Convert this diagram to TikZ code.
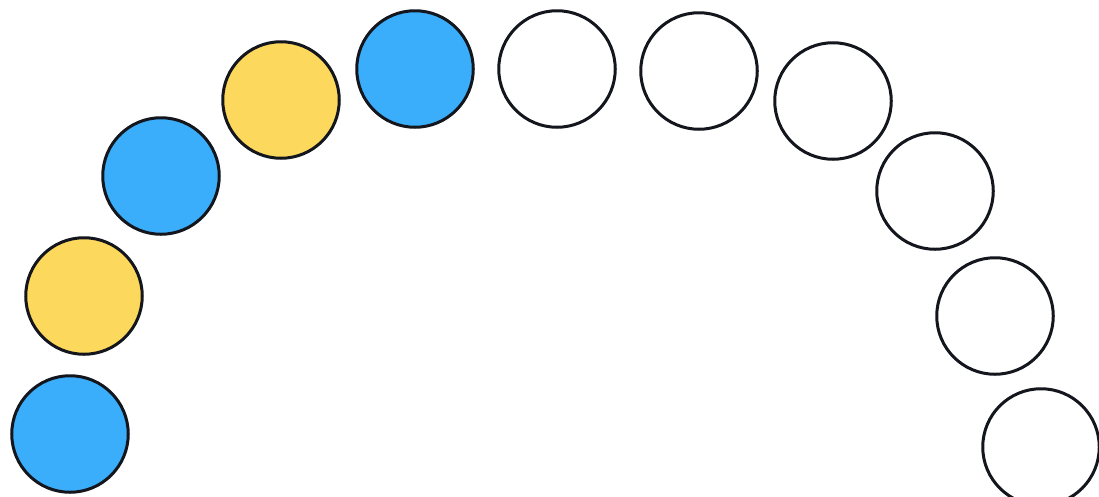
\documentclass[tikz,border=0pt]{standalone}
\definecolor{dotblue}{RGB}{58,174,250}
\definecolor{dotyellow}{RGB}{252,216,92}
\definecolor{rim}{RGB}{20,22,30}
\begin{document}
\begin{tikzpicture}[x=1pt,y=-1pt,
  dot/.style={circle,draw=rim,line width=3pt,minimum size=116.5pt,inner sep=0pt},
  bluedot/.style={dot,fill=dotblue},
  yellowdot/.style={dot,fill=dotyellow},
  emptydot/.style={dot,fill=white}]
\useasboundingbox (0,0) rectangle (1099,496);
\fill[white] (0,0) rectangle (1099,496);
\begin{scope}
\clip (0,0) rectangle (1099,496);
\node[bluedot]   (c1)  at (70,434)  {};
\node[yellowdot] (c2)  at (84,296)  {};
\node[bluedot]   (c3)  at (161,176) {};
\node[yellowdot] (c4)  at (281,100) {};
\node[bluedot]   (c5)  at (415,69)  {};
\node[emptydot]  (c6)  at (557,69)  {};
\node[emptydot]  (c7)  at (699,71)  {};
\node[emptydot]  (c8)  at (833,101) {};
\node[emptydot]  (c9)  at (935,191) {};
\node[emptydot]  (c10) at (995,316) {};
\node[emptydot]  (c11) at (1041,447) {};
\end{scope}
\end{tikzpicture}
\end{document}
